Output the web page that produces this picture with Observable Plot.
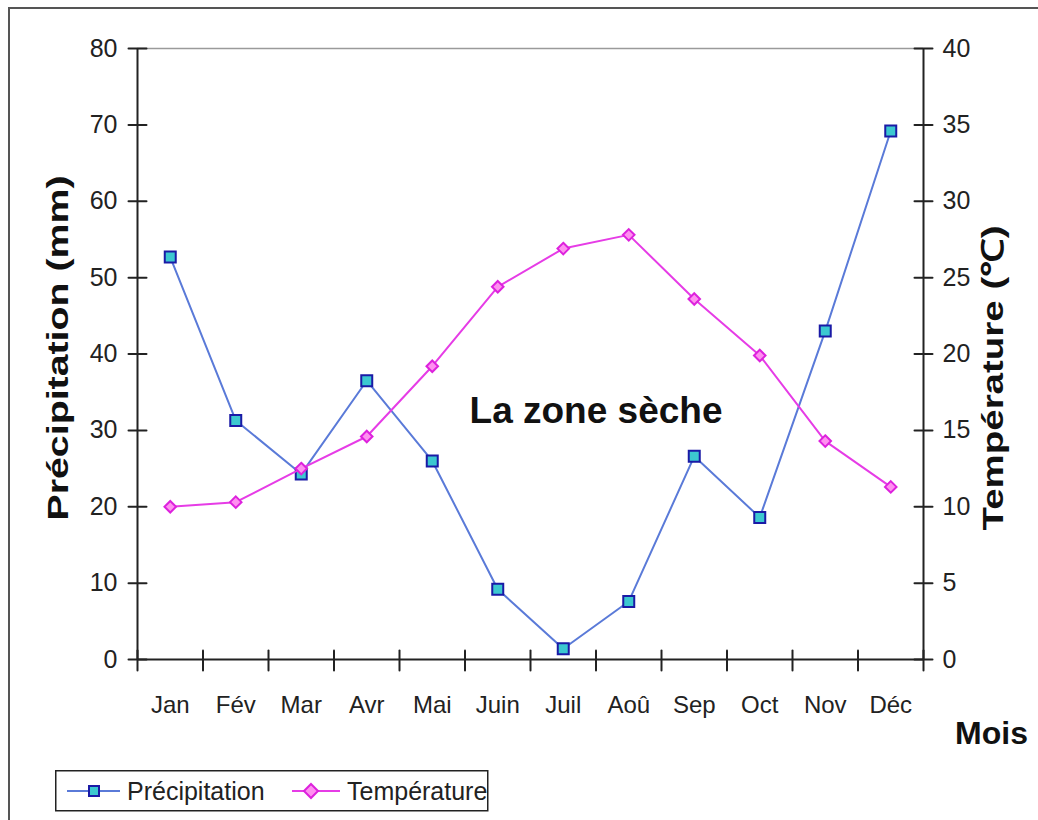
<!DOCTYPE html>
<html>
<head>
<meta charset="utf-8">
<script src="https://cdn.jsdelivr.net/npm/d3@7"></script>
<script src="https://cdn.jsdelivr.net/npm/@observablehq/plot@0.6"></script>
<style>
  body { margin: 0; background: #fff; font-family: "Liberation Sans", Arial, sans-serif; }
  #frame { position: absolute; left: 8px; top: 7px; width: 1100px; height: 900px; border: 2px solid #555; box-sizing: border-box; }
  #chart { position: absolute; left: 0; top: 0; }
  #legend { position: absolute; left: 55px; top: 770px; }
</style>
</head>
<body>
<div id="frame"></div>
<div id="chart"></div>
<div id="legend"></div>
<script>
// Monthly climate of the dry zone
const months = ["Jan", "Fév", "Mar", "Avr", "Mai", "Juin", "Juil", "Aoû", "Sep", "Oct", "Nov", "Déc"];
const precipitation = [52.7, 31.3, 24.3, 36.5, 26.0, 9.2, 1.4, 7.6, 26.6, 18.6, 43.0, 69.2]; // mm
const temperature = [10.0, 10.3, 12.5, 14.6, 19.2, 24.4, 26.9, 27.8, 23.6, 19.9, 14.3, 11.3]; // °C
const precipTicks = [0, 10, 20, 30, 40, 50, 60, 70, 80];
const tempTicks = [0, 5, 10, 15, 20, 25, 30, 35, 40];
const annotation = {text: "La zone sèche", x: 7, y: 32.5};

const precipMax = 80, tempMax = 40;
const k = precipMax / tempMax; // temperature → left-axis units

const rows = months.map((m, i) => ({month: m, i, p: precipitation[i], t: temperature[i]}));

const blueLine = "#5a7ad8", squareFill = "#3cc8d0", squareStroke = "#1a1aa6";
const pinkLine = "#e63ce6", diamondFill = "#ff90f0", diamondStroke = "#dd22dd";
const ink = "#222";

// Tick marks that straddle the axis line
const crossH = {draw(ctx) { ctx.moveTo(-9, 0); ctx.lineTo(9, 0); }};
const crossV = {draw(ctx) { ctx.moveTo(0, -9); ctx.lineTo(0, 11); }};

const xc = d => d.i + 0.5;

const chart = Plot.plot({
  width: 1038,
  height: 760,
  marginLeft: 137,
  marginRight: 115,
  marginTop: 48,
  marginBottom: 101,
  style: {fontFamily: "'Liberation Sans', Arial, sans-serif", color: ink, background: "transparent", overflow: "visible"},
  x: {type: "linear", domain: [0, months.length]},
  y: {domain: [0, precipMax]},
  marks: [
    Plot.ruleY([precipMax], {stroke: "#9a9a9a", strokeWidth: 1.5}),
    Plot.ruleY([0], {stroke: ink, strokeWidth: 2}),
    Plot.ruleX([0, months.length], {stroke: ink, strokeWidth: 2}),
    Plot.vector(precipTicks, {y: d => d, frameAnchor: "left", anchor: "start", shape: crossH, stroke: ink, strokeWidth: 2}),
    Plot.vector(tempTicks, {y: d => d * k, frameAnchor: "right", anchor: "start", shape: crossH, stroke: ink, strokeWidth: 2}),
    Plot.vector(d3.range(months.length + 1), {x: d => d, frameAnchor: "bottom", anchor: "start", shape: crossV, stroke: ink, strokeWidth: 2}),
    Plot.axisY(precipTicks, {anchor: "left", tickSize: 0, tickPadding: 20, fontSize: 25, label: null}),
    Plot.axisY(tempTicks.map(t => t * k), {anchor: "right", tickSize: 0, tickPadding: 19, fontSize: 25, label: null, tickFormat: d => d / k}),
    Plot.axisX(months.map((_, i) => i + 0.5), {anchor: "bottom", tickSize: 0, tickPadding: 36, fontSize: 24, label: null, tickFormat: d => months[Math.floor(d)]}),
    // Precipitation series
    Plot.line(rows, {x: xc, y: "p", stroke: blueLine, strokeWidth: 2}),
    Plot.dot(rows, {x: xc, y: "p", symbol: "square", r: 6.2, fill: squareFill, stroke: squareStroke, strokeWidth: 2}),
    // Temperature series
    Plot.line(rows, {x: xc, y: d => d.t * k, stroke: pinkLine, strokeWidth: 2}),
    Plot.dot(rows, {x: xc, y: d => d.t * k, symbol: "diamond2", r: 5.2, fill: diamondFill, stroke: diamondStroke, strokeWidth: 2}),
    // Annotation and axis titles
    Plot.text([annotation], {x: "x", y: "y", text: "text", fontSize: 37, fontWeight: "bold", fill: "#111"}),
    Plot.text(["Précipitation (mm)"], {frameAnchor: "left", textAnchor: "middle", lineAnchor: "middle", dx: -79, dy: -6, rotate: -90, fontSize: 30, fontWeight: "bold", fill: "#111"}),
    Plot.text(["Température (℃)"], {frameAnchor: "right", textAnchor: "middle", lineAnchor: "middle", dx: 70, dy: 24, rotate: -90, fontSize: 30, fontWeight: "bold", fill: "#111"}),
    Plot.text(["Mois"], {frameAnchor: "bottom-right", textAnchor: "middle", lineAnchor: "middle", dx: 68, dy: 74, fontSize: 32, fontWeight: "bold", fill: "#111"})
  ]
});

// Stretch the rotated axis titles to their drawn length
chart.querySelectorAll("text").forEach(t => {
  if (t.textContent === "Précipitation (mm)") { t.setAttribute("textLength", 345); t.setAttribute("lengthAdjust", "spacingAndGlyphs"); }
  if (t.textContent === "Température (℃)") { t.setAttribute("textLength", 305); t.setAttribute("lengthAdjust", "spacingAndGlyphs"); }
});
document.getElementById("chart").append(chart);

// Legend box under the chart
const legend = d3.select("#legend").append("svg").attr("width", 436).attr("height", 44);
legend.append("rect").attr("x", 0.75).attr("y", 0.75).attr("width", 432).attr("height", 40)
  .attr("fill", "#fff").attr("stroke", ink).attr("stroke-width", 1.5);
const ly = 21;
legend.append("line").attr("x1", 12).attr("x2", 65).attr("y1", ly).attr("y2", ly).attr("stroke", blueLine).attr("stroke-width", 2);
legend.append("rect").attr("x", 34).attr("y", ly - 5).attr("width", 10).attr("height", 10)
  .attr("fill", squareFill).attr("stroke", squareStroke).attr("stroke-width", 2);
legend.append("text").attr("x", 72).attr("y", ly + 9).attr("font-size", 25).attr("fill", ink)
  .attr("font-family", "'Liberation Sans', Arial, sans-serif").text("Précipitation");
legend.append("line").attr("x1", 237).attr("x2", 285).attr("y1", ly).attr("y2", ly).attr("stroke", pinkLine).attr("stroke-width", 2);
legend.append("path").attr("d", `M256,${ly - 7}L263,${ly}L256,${ly + 7}L249,${ly}Z`)
  .attr("fill", diamondFill).attr("stroke", diamondStroke).attr("stroke-width", 2);
legend.append("text").attr("x", 292).attr("y", ly + 9).attr("font-size", 25).attr("fill", ink)
  .attr("font-family", "'Liberation Sans', Arial, sans-serif").text("Température");
</script>
</body>
</html>
